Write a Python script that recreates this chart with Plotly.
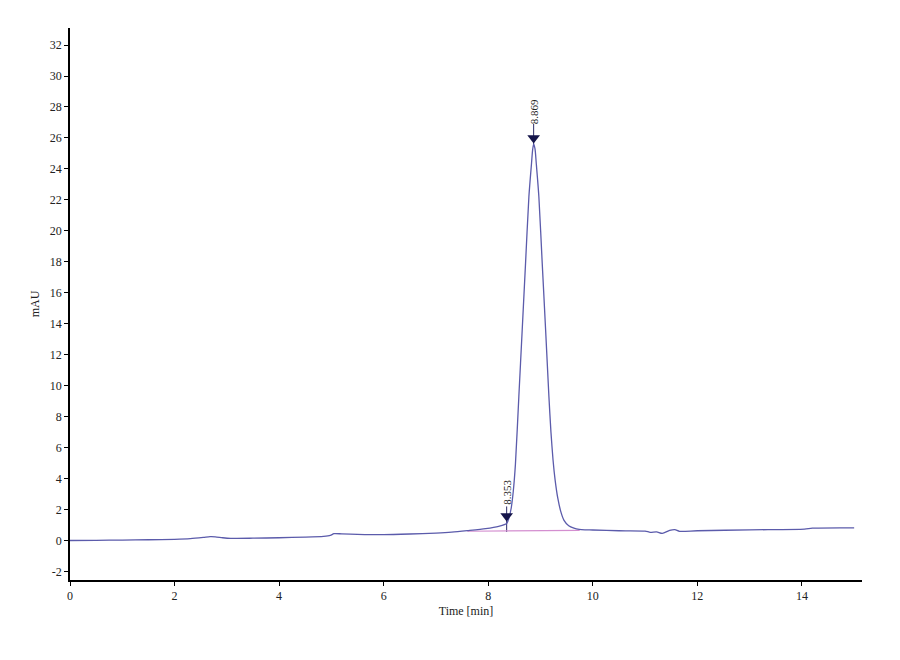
import plotly.graph_objects as go

# ---- data ----
time_min = [0.0, 0.5, 1.0, 1.5, 2.0, 2.3, 2.55, 2.68, 2.78, 2.92, 3.07, 3.5, 4.0, 4.5, 4.85,
            4.98, 5.05, 5.2, 5.5, 6.0, 6.5, 7.0, 7.3, 7.6, 7.95, 8.2, 8.353,
            8.40, 8.44, 8.48, 8.52, 8.586, 8.650, 8.714, 8.778, 8.829, 8.85, 8.869,
            8.895, 8.918, 8.969, 9.033, 9.098, 9.161, 9.20, 9.24, 9.28, 9.33, 9.39,
            9.45, 9.54, 9.64, 9.74, 9.85, 10.0, 10.5, 11.0, 11.1, 11.22, 11.33, 11.47,
            11.57, 11.66, 12.0, 13.0, 14.05, 14.2, 15.0]
signal_mau = [0.0, 0.01, 0.03, 0.05, 0.08, 0.12, 0.2, 0.25, 0.24, 0.18, 0.14, 0.15, 0.18, 0.22, 0.27,
              0.33, 0.44, 0.43, 0.40, 0.38, 0.42, 0.48, 0.54, 0.64, 0.77, 0.92, 1.1,
              1.5, 2.1, 3.2, 4.9, 9.3, 13.6, 17.9, 22.2, 24.4, 25.25, 25.6,
              25.3, 24.4, 22.2, 17.9, 13.6, 9.3, 7.0, 5.2, 3.9, 2.75, 1.85,
              1.3, 0.95, 0.8, 0.72, 0.69, 0.68, 0.63, 0.61, 0.53, 0.56, 0.46, 0.65,
              0.70, 0.59, 0.63, 0.69, 0.73, 0.80, 0.82]

baseline_t = [7.6, 9.75]
baseline_y = [0.60, 0.66]

peak_times = [8.353, 8.869]
peak_labels = ["8.353", "8.869"]
marker_y = [1.58, 26.0]
label_y = [3.13, 27.7]
drop_y0 = [0.55, 25.6]
drop_y1 = [2.2, 26.9]

x_ticks = [0, 2, 4, 6, 8, 10, 12, 14]
y_ticks = [-2, 0, 2, 4, 6, 8, 10, 12, 14, 16, 18, 20, 22, 24, 26, 28, 30, 32]

serif = "Liberation Serif, Times New Roman, serif"

fig = go.Figure()

# drop lines / stems
for pt, a, b in zip(peak_times, drop_y0, drop_y1):
    fig.add_trace(go.Scatter(x=[pt, pt], y=[a, b], mode="lines",
                             line=dict(color="#2a2a66", width=1), hoverinfo="skip",
                             showlegend=False))

fig.add_trace(go.Scatter(x=baseline_t, y=baseline_y, mode="lines",
                         line=dict(color="#d48fd0", width=1.2), showlegend=False))

fig.add_trace(go.Scatter(x=time_min, y=signal_mau, mode="lines",
                         line=dict(color="#5b5bab", width=1.3, shape="spline", smoothing=0.7),
                         showlegend=False))

fig.add_trace(go.Scatter(x=peak_times, y=marker_y, mode="markers",
                         marker=dict(symbol="triangle-down", size=11, color="#15154a",
                                     line=dict(width=0)),
                         showlegend=False))

for pt, lab, ly in zip(peak_times, peak_labels, label_y):
    fig.add_annotation(x=pt, y=ly, text=lab, textangle=-90, showarrow=False,
                       xanchor="center", yanchor="middle",
                       font=dict(family=serif, size=11, color="#222222"))

# page body adds an 8px offset, so margins compensate
fig.update_layout(
    width=900, height=660,
    margin=dict(l=62, r=46, t=20, b=88, autoexpand=False),
    paper_bgcolor="white", plot_bgcolor="white",
    showlegend=False,
    font=dict(family=serif, size=12, color="#222222"),
)

fig.update_xaxes(range=[0, 15.15], tickmode="array", tickvals=x_ticks,
                 ticktext=[str(v) for v in x_ticks], automargin=False,
                 showgrid=False, zeroline=False, showline=True, linecolor="black", linewidth=1.5,
                 ticks="outside", ticklen=4, tickwidth=1, tickcolor="black",
                 title=dict(text="Time [min]", font=dict(family=serif, size=12, color="#222222"),
                            standoff=4),
                 tickfont=dict(family=serif, size=12, color="#222222"))

fig.update_yaxes(range=[-2.55, 33.1], tickmode="array", tickvals=y_ticks,
                 ticktext=[str(v) for v in y_ticks], automargin=False,
                 showgrid=False, zeroline=False, showline=True, linecolor="black", linewidth=1.5,
                 ticks="outside", ticklen=4, tickwidth=1, tickcolor="black",
                 title=dict(text="mAU", font=dict(family=serif, size=12, color="#222222"),
                            standoff=8),
                 tickfont=dict(family=serif, size=12, color="#222222"))

fig.write_html("out.html")
